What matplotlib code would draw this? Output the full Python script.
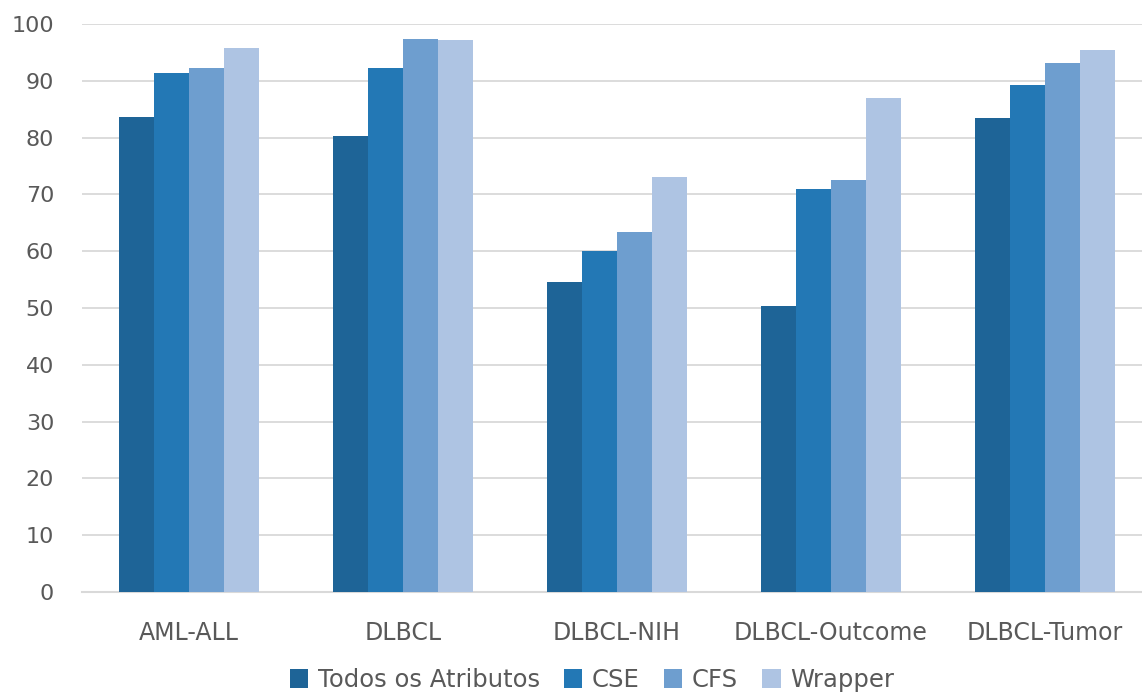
import matplotlib.pyplot as plt
import numpy as np

plt.rcParams['font.family'] = ['DejaVu Sans']

datasets = ["AML-ALL", "DLBCL", "DLBCL-NIH", "DLBCL-Outcome", "DLBCL-Tumor"]
series_names = ["Todos os Atributos", "CSE", "CFS", "Wrapper"]
todos = [83.7, 80.3, 54.5, 50.3, 83.4]
cse = [91.3, 92.2, 60.1, 71.0, 89.2]
cfs = [92.2, 97.4, 63.3, 72.5, 93.1]
wrapper = [95.8, 97.1, 73.1, 87.0, 95.5]
colors = ["#1e6497", "#2378b5", "#6e9ecf", "#aec4e3"]

W, H = 1142, 693
fig = plt.figure(figsize=(W / 100, H / 100), dpi=100)
ax = fig.add_axes([82 / W, 1 - 592 / H, (W - 82) / W, (592 - 24) / H])

x = np.arange(len(datasets))
width = 0.1625
for i, (name, vals, c) in enumerate(zip(series_names, [todos, cse, cfs, wrapper], colors)):
    ax.bar(x + (i - 1.5) * width, vals, width, color=c, label=name, zorder=3)

ax.set_ylim(0, 100)
ax.set_xlim(-0.5, -0.5 + (W - 82) / 214)
ax.set_yticks(range(0, 101, 10))
ax.set_xticks(x)
ax.set_xticklabels(datasets, fontsize=17)
ax.yaxis.grid(True, color="#dcdcdc", linewidth=1.4, zorder=0)
ax.set_axisbelow(True)
for s in ["top", "right", "left"]:
    ax.spines[s].set_visible(False)
ax.spines["bottom"].set_color("#d9d9d9")
ax.spines["bottom"].set_linewidth(1.5)
ax.tick_params(axis="both", length=0, labelcolor="#595959")
ax.tick_params(axis="y", pad=20, labelsize=16)
ax.tick_params(axis="x", pad=21)

fig.legend(loc="center", bbox_to_anchor=(592 / W, 1 - 680 / H), ncol=4, frameon=False,
           fontsize=17.5, labelcolor="#595959", handlelength=0.75, handleheight=0.85,
           handletextpad=0.4, columnspacing=1.0)

fig.savefig("out.png", dpi=100)
